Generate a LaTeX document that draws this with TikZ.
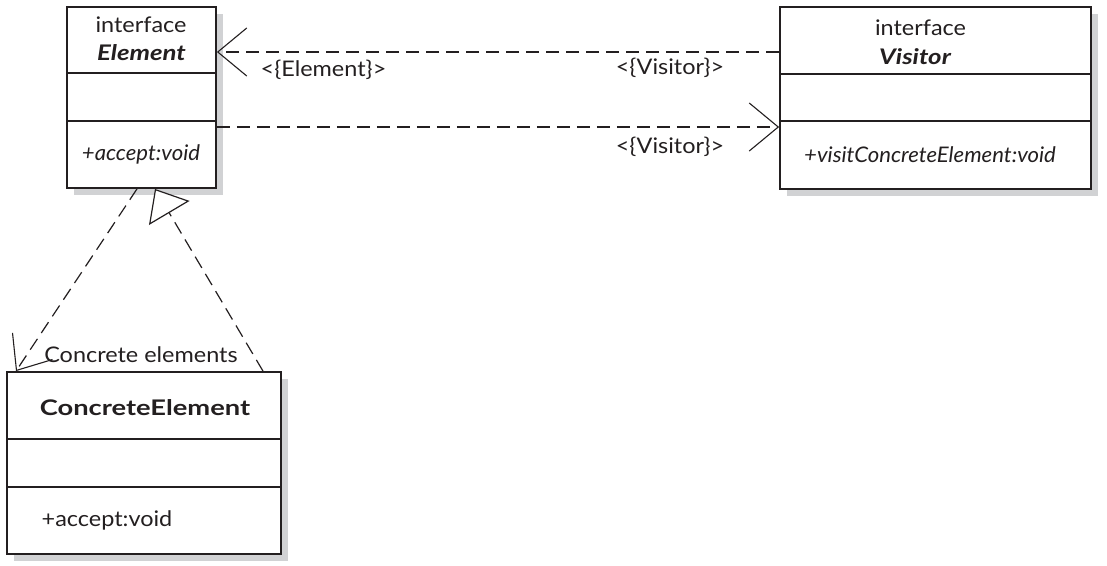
\documentclass[tikz,border=0pt]{standalone}
\usepackage{fontspec}
\setmainfont{Lato}[FakeStretch=1.09]
\newfontfamily\itf{Lato}[FakeStretch=1.03]
\newfontfamily\bff{Lato}[FakeStretch=1.27]
\newfontfamily\bif{Lato}[FakeStretch=1.2]
\usetikzlibrary{arrows.meta,shadows}
\definecolor{ink}{HTML}{231F20}
\definecolor{shade}{HTML}{D1D2D4}
\begin{document}
\begin{tikzpicture}[x=1pt,y=-1pt,
  box/.style={draw=ink,line width=1.8pt,fill=white,rectangle,inner sep=0pt,
    drop shadow={shadow xshift=7pt,shadow yshift=-7pt,fill=shade,opacity=1}},
  txt/.style={text=ink,inner sep=0pt,font=\fontsize{21.5}{24}\selectfont},
  ittxt/.style={txt,font=\fontsize{21.5}{24}\selectfont\itf\itshape},
  bftxt/.style={txt,font=\fontsize{21.5}{24}\selectfont\bff\bfseries},
  bitxt/.style={txt,font=\fontsize{21.5}{24}\selectfont\bif\bfseries\itshape},
  sep/.style={draw=ink,line width=1.8pt},
  dep/.style={draw=ink,line width=1.6pt,dash pattern=on 13pt off 7pt},
  ddep/.style={draw=ink,line width=1.2pt,dash pattern=on 13pt off 7pt},
  barb/.style={-{Straight Barb[length=29pt,width=48pt,line width=1.1pt]}},
  real/.style={-{Triangle[open,length=28pt,width=47pt,line width=1.2pt,fill=white]}}
]
\useasboundingbox (0,0) rectangle (1107,565);
% boxes
\node[box,minimum width=149pt,minimum height=181pt] (el) at (141.5,97.5) {};
\node[box,minimum width=311pt,minimum height=182pt] (vis) at (935.5,98) {};
\node[box,minimum width=274pt,minimum height=182pt] (ce) at (144,463) {};
% compartments
\draw[sep] (el.west |- 0,73) -- (el.east |- 0,73);
\draw[sep] (el.west |- 0,121) -- (el.east |- 0,121);
\draw[sep] (vis.west |- 0,74) -- (vis.east |- 0,74);
\draw[sep] (vis.west |- 0,121) -- (vis.east |- 0,121);
\draw[sep] (ce.west |- 0,439) -- (ce.east |- 0,439);
\draw[sep] (ce.west |- 0,487) -- (ce.east |- 0,487);
% texts
\node[txt] (el1) at (141,25) {interface};
\node[bitxt] (el2) at (141.5,53) {Element};
\node[ittxt] (el3) at (141,154) {+accept:void};
\node[txt] (vis1) at (920.5,28) {interface};
\node[bitxt] (vis2) at (915,57) {Visitor};
\node[ittxt] (vis3) at (930,155) {+visitConcreteElement:void};
\node[bftxt] (ce1) at (145,408) {ConcreteElement};
\node[txt] (ce3) at (107,520) {+accept:void};
% connectors
\draw[dep,barb] (vis.west |- 0,52) -- (el.east |- 0,52);
\draw[dep,barb] (el.east |- 0,127) -- (vis.west |- 0,127);
\draw[ddep,barb] (137,0 |- el.south) -- (16,0 |- ce.north);
\draw[ddep,real] (263,0 |- ce.north) -- (155,0 |- el.south);
% labels
\node[txt] (l1) at (323.5,70) {<\{Element\}>};
\node[txt] (l2) at (670,68) {<\{Visitor\}>};
\node[txt] (l3) at (670,147) {<\{Visitor\}>};
\node[txt] (l4) at (141,355) {Concrete elements};
\end{tikzpicture}
\end{document}
